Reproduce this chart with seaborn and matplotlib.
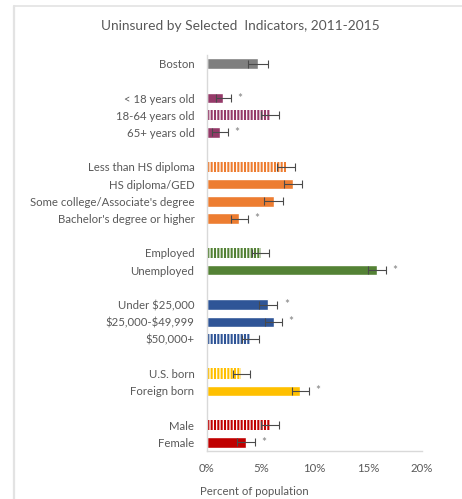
import matplotlib
matplotlib.use("Agg")
import matplotlib.pyplot as plt
import seaborn as sns
import pandas as pd
from matplotlib.lines import Line2D

# Categories (blank strings are spacer rows between groups)
order = ["Boston", " ",
         "< 18 years old", "18-64 years old", "65+ years old", "  ",
         "Less than HS diploma", "HS diploma/GED", "Some college/Associate's degree",
         "Bachelor's degree or higher", "   ",
         "Employed", "Unemployed", "    ",
         "Under $25,000", "$25,000-$49,999", "$50,000+", "     ",
         "U.S. born", "Foreign born", "      ",
         "Male", "Female"]

labels = ["Boston",
          "< 18 years old", "18-64 years old", "65+ years old",
          "Less than HS diploma", "HS diploma/GED", "Some college/Associate's degree",
          "Bachelor's degree or higher",
          "Employed", "Unemployed",
          "Under $25,000", "$25,000-$49,999", "$50,000+",
          "U.S. born", "Foreign born",
          "Male", "Female"]
pct = [4.75,
       1.5, 5.9, 1.2,
       7.35, 8.0, 6.2, 3.0,
       5.0, 15.8,
       5.7, 6.2, 4.05,
       3.2, 8.7,
       5.9, 3.6]
err = [0.9,
       0.7, 0.85, 0.75,
       0.8, 0.85, 0.85, 0.8,
       0.8, 0.85,
       0.85, 0.8, 0.8,
       0.8, 0.8,
       0.85, 0.85]
# reference groups are drawn striped; starred groups differ significantly
reference = ["18-64 years old", "Less than HS diploma", "Employed", "$50,000+", "U.S. born", "Male"]
starred = ["< 18 years old", "65+ years old", "Bachelor's degree or higher", "Unemployed",
           "Under $25,000", "$25,000-$49,999", "Foreign born", "Female"]

group_colors = {"gray": "#7f7f7f", "purple": "#953a69", "orange": "#ed7d31",
                "green": "#548235", "blue": "#2f5597", "gold": "#ffc000", "red": "#c00000"}
label_group = (["gray"] + ["purple"] * 3 + ["orange"] * 4 + ["green"] * 2 +
               ["blue"] * 3 + ["gold"] * 2 + ["red"] * 2)
palette = {lab: group_colors[g] for lab, g in zip(labels, label_group)}

df = pd.DataFrame({"label": labels, "pct": pct, "err": err})

sns.set_style("white")
plt.rcParams["font.family"] = ["Lato", "DejaVu Sans"]
plt.rcParams["hatch.linewidth"] = 1.5
plt.rcParams["text.parse_math"] = False

text_col = "#595959"
fig = plt.figure(figsize=(4.62, 4.99), dpi=100)
ax = fig.add_axes([0.448, 0.0962, 0.465, 0.7936])

sns.barplot(data=df, x="pct", y="label", order=order, hue="label", palette=palette,
            legend=False, width=0.6, errorbar=None, ax=ax, saturation=1)

# stripe the reference groups
pos = {lab: i for i, lab in enumerate(order)}
for p in ax.patches:
    yc = p.get_y() + p.get_height() / 2
    idx = int(round(yc))
    lab = order[idx]
    if lab in reference:
        c = palette[lab]
        p.set_facecolor("white")
        p.set_edgecolor(c)
        p.set_hatch("|||||")
        p.set_linewidth(0)

ypos = [pos[l] for l in labels]
ax.errorbar(df["pct"], ypos, xerr=df["err"], fmt="none", ecolor="#4a4a4a",
            elinewidth=0.8, capsize=2.6, capthick=0.8)

for lab, v, e in zip(labels, pct, err):
    if lab in starred:
        ax.text(v + e + 0.6, pos[lab], "*", va="center", ha="left",
                fontsize=8.5, color="#7f7f7f")

ax.set_xlim(0, 20)
ax.set_ylim(len(order) - 0.5, -0.5)
ax.set_xticks([0, 5, 10, 15, 20])
ax.set_xticklabels(["0%", "5%", "10%", "15%", "20%"])
ax.tick_params(axis="y", length=0, pad=9, labelsize=8.2, labelcolor=text_col)
ax.tick_params(axis="x", length=0, pad=9, labelsize=8.2, labelcolor=text_col)
ax.set_ylabel("")
ax.set_xlabel("Percent of population", fontsize=8.2, color=text_col)
ax.xaxis.set_label_coords(0.219, -0.088)
for s in ["top", "right"]:
    ax.spines[s].set_visible(False)
for s in ["left", "bottom"]:
    ax.spines[s].set_color("#d9d9d9")
    ax.spines[s].set_linewidth(1)

fig.text(0.52, 0.948, "Uninsured by Selected  Indicators, 2011-2015",
         ha="center", va="center", fontsize=9.9, color=text_col)

# chart-area frame (top and left edges)
fig.add_artist(Line2D([14 / 462, 1], [1 - 6 / 499, 1 - 6 / 499], transform=fig.transFigure,
                      color="#e3e3e3", lw=1.2))
fig.add_artist(Line2D([14 / 462, 14 / 462], [0, 1 - 6 / 499], transform=fig.transFigure,
                      color="#e3e3e3", lw=1.6))

fig.savefig("out.png", dpi=100)
